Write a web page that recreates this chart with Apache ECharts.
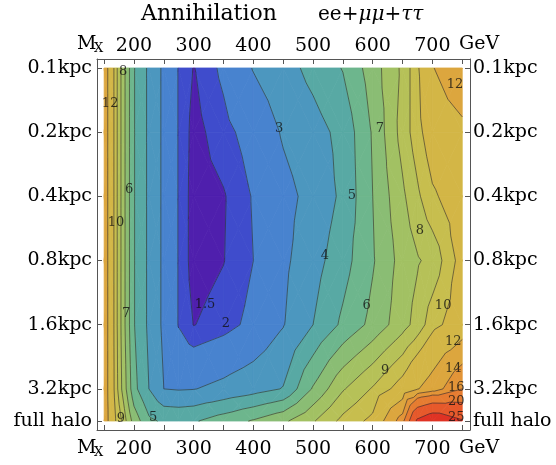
<!DOCTYPE html>
<html><head><meta charset="utf-8">
<script src="https://cdn.jsdelivr.net/npm/echarts@6/dist/echarts.min.js"></script>
<style>html,body{margin:0;padding:0;background:#fff}#c{width:556px;height:465px}</style>
</head><body><div id="c"></div>
<script>
// ---- data ----
const massGeV = [150,160,170,180,190,200,225,250,275,300,350,400,450,500,550,600,650,675,700,750];
const haloLabels = ['0.1kpc','0.2kpc','0.4kpc','0.8kpc','1.6kpc','3.2kpc','full halo'];
const haloPos = [0,1,2,3,4,5,5.5];
const xTickLabels = [200,300,400,500,600,700];
const xTickMarks = [150,200,250,300,350,400,450,500,550,600,650,700,750];
const levels = [1.5,2,3,4,5,6,7,8,9,10,12,14,16,20,25];
const bandColors = ['#4f1fad','#3f4ccc','#4883cf','#4c97bf','#58a9a4','#6db68d','#8abd74','#a2c163',
  '#b6c158','#c7be4e','#d3b646','#dca63e','#e29437','#e67c31','#e6592b','#df3324'];
const row_0p1kpc  = [13.2,11.2,9.3,7.7,6.3,5.05,3.8,2.8,1.95,1.47,2.15,3.05,3.6,4.3,5.05,6.5,8.2,9.8,11.9,13.6];
const row_0p2kpc  = [13.2,11.2,9.3,7.7,6.3,5.05,3.8,2.8,1.95,1.3,1.8,2.3,3.1,3.6,4.3,6.1,8.4,9.6,10.8,11.5];
const row_0p4kpc  = [13.2,11.2,9.3,7.7,6.3,5.05,3.8,2.8,1.95,1.25,1.45,2.05,2.7,3.3,4.2,6.0,7.8,8.8,9.8,10.8];
const row_0p8kpc  = [13.2,11.2,9.3,7.7,6.3,5.05,3.8,2.8,1.95,1.25,1.48,2.0,2.8,3.6,4.6,5.9,7.4,7.9,8.3,10.5];
const row_1p6kpc  = [13.2,11.2,9.3,7.7,6.3,5.05,3.8,2.8,1.95,1.48,1.75,2.2,2.95,4.0,5.2,6.3,7.6,8.4,9.6,10.8];
const row_3p2kpc  = [13.2,11.2,9.4,7.9,6.6,5.3,4.0,3.0,2.93,2.97,3.25,3.6,4.05,6.1,7.9,9.1,10.6,11.9,12.9,16.0];
const row_fullhalo= [13.2,11.4,9.9,8.9,7.6,6.6,5.2,4.85,4.8,4.9,5.5,6.1,6.8,7.9,9.3,10.3,15.0,26.0,29.0,25.5];
// contour label annotations: [GeV, halo position, text]
const contourLabels = [
  [182,0.05,'8'],[160,0.55,'12'],[192,1.9,'6'],[170,2.41,'10'],[187,3.83,'7'],[178,5.47,'9'],[232,5.45,'5'],
  [319,3.68,'1.5'],[354,3.99,'2'],[443,0.95,'3'],[520,2.93,'4'],[565,1.99,'5'],[590,3.71,'6'],[612,0.95,'7'],
  [679,2.54,'8'],[621,4.72,'9'],[718,3.71,'10'],[738,0.26,'12'],[735,4.27,'12'],[735,4.69,'14'],
  [740,4.98,'16'],[740,5.2,'20'],[740,5.44,'25']
];
// ------------------------------------
const grid = [row_0p1kpc,row_0p2kpc,row_0p4kpc,row_0p8kpc,row_1p6kpc,row_3p2kpc,row_fullhalo];
const cells = [];
for (let j=0;j<haloPos.length-1;j++) for (let i=0;i<massGeV.length-1;i++)
  cells.push([(massGeV[i]+massGeV[i+1])/2,(haloPos[j]+haloPos[j+1])/2,i,j]);

function nudge(v){ for (const L of levels) if (Math.abs(v-L)<1e-9) return v+1e-6; return v; }
function clip(poly,L,above){
  const out=[]; const ins=p=>above? p.v>=L : p.v<=L;
  for(let n=0;n<poly.length;n++){
    const A=poly[n],B=poly[(n+1)%poly.length]; const ia=ins(A), ib=ins(B);
    if(ia) out.push(A);
    if(ia!==ib){ const t=(L-A.v)/(B.v-A.v); out.push({x:A.x+t*(B.x-A.x),y:A.y+t*(B.y-A.y),v:L}); }
  }
  return out;
}
function triangles(api){
  const i=api.value(2), j=api.value(3);
  const P=(ii,jj)=>{const p=api.coord([massGeV[ii],haloPos[jj]]);return {x:p[0],y:p[1],v:nudge(grid[jj][ii])};};
  const a=P(i,j),b=P(i+1,j),c=P(i+1,j+1),d=P(i,j+1);
  const m={x:(a.x+b.x+c.x+d.x)/4,y:(a.y+b.y+c.y+d.y)/4,v:nudge((a.v+b.v+c.v+d.v)/4)};
  return [[a,b,m],[b,c,m],[c,d,m],[d,a,m]];
}
function renderFill(params,api){
  const children=[];
  for(const tri of triangles(api)){
    for(let k=0;k<=levels.length;k++){
      let poly=tri;
      if(k>0) poly=clip(poly,levels[k-1],true);
      if(poly.length>=3 && k<levels.length) poly=clip(poly,levels[k],false);
      if(poly.length>=3) children.push({type:'polygon',shape:{points:poly.map(p=>[p.x,p.y])},
        style:{fill:bandColors[k],stroke:bandColors[k],lineWidth:0.8}});
    }
  }
  return {type:'group',children};
}
function renderLines(params,api){
  const children=[];
  for(const tri of triangles(api)){
    for(const L of levels){
      const pts=[];
      for(let n=0;n<3;n++){const A=tri[n],B=tri[(n+1)%3];
        if((A.v-L)*(B.v-L)<0){const t=(L-A.v)/(B.v-A.v);pts.push([A.x+t*(B.x-A.x),A.y+t*(B.y-A.y)]);}}
      if(pts.length===2) children.push({type:'line',shape:{x1:pts[0][0],y1:pts[0][1],x2:pts[1][0],y2:pts[1][1]},
        style:{stroke:'rgba(45,45,45,0.6)',lineWidth:1}});
    }
  }
  return {type:'group',children};
}
const F='DejaVu Serif';
const axisCol='#555';
function xAx(pos,margin){return {type:'value',position:pos,min:138,max:763,
  axisLine:{show:true,onZero:false,lineStyle:{color:axisCol,width:1}},
  axisTick:{show:true,inside:true,length:5,customValues:xTickMarks,lineStyle:{color:axisCol}},
  axisLabel:{show:true,customValues:xTickLabels,fontFamily:F,fontSize:19,color:'#000',margin:margin},
  splitLine:{show:false}};}
function yAx(pos,margin){return {type:'value',position:pos,inverse:true,min:-0.14,max:5.64,
  axisLine:{show:true,onZero:false,lineStyle:{color:axisCol,width:1}},
  axisTick:{show:true,inside:true,length:5,customValues:haloPos,lineStyle:{color:axisCol}},
  axisLabel:{show:true,customValues:haloPos,fontFamily:F,fontSize:19,color:'#000',margin:margin,
    formatter:v=>{const k=haloPos.findIndex(h=>Math.abs(h-v)<1e-6);return k>=0?haloLabels[k]:'';}},
  splitLine:{show:false}};}
const chart=echarts.init(document.getElementById('c'),null,{renderer:'canvas'});
const txt=(l,t,s,size,extra)=>Object.assign({type:'text',left:l,top:t,style:Object.assign({text:s,font:size+'px "'+F+'"',fill:'#000'},extra||{})});
chart.setOption({
  animation:false,
  backgroundColor:'#fff',
  grid:{left:97,right:86,top:59,bottom:35},
  xAxis:[xAx('bottom',10),xAx('top',3)],
  yAxis:[yAx('left',5),yAx('right',3)],
  graphic:[
    txt(141,3,'Annihilation',22),
    {type:'text',left:318,top:5,style:{text:'ee+{i|μμ}+{i|ττ}',font:'20px "'+F+'"',fill:'#000',
      rich:{i:{fontFamily:F,fontSize:20,fontStyle:'italic'}}}},
    txt(77,35,'M',19), txt(94,42,'X',13),
    txt(459,35,'GeV',19),
    txt(77,439,'M',19), txt(94,446,'X',13),
    txt(459,439,'GeV',19)
  ],
  series:[
    {type:'custom',coordinateSystem:'cartesian2d',data:cells,encode:{x:0,y:1},renderItem:renderFill,z:1,silent:true},
    {type:'custom',coordinateSystem:'cartesian2d',data:cells,encode:{x:0,y:1},renderItem:renderLines,z:2,silent:true},
    {type:'scatter',data:contourLabels,symbolSize:0,z:3,silent:true,
      label:{show:true,position:'inside',formatter:p=>p.value[2],fontFamily:F,fontSize:13,color:'#111'}}
  ]
});
</script></body></html>
